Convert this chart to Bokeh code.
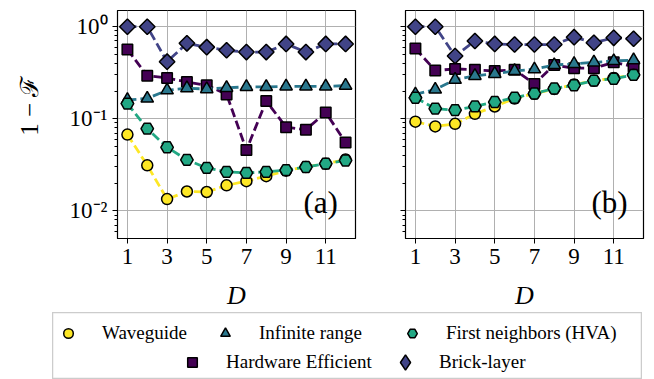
import numpy as np
from bokeh.plotting import figure
from bokeh.layouts import column, row
from bokeh.models import (FixedTicker, CustomJSTickFormatter, Legend, LegendItem,
                          Label, Spacer, Range1d, ColumnDataSource)
from bokeh.embed import file_html
from bokeh.resources import INLINE

D = [1, 2, 3, 4, 5, 6, 7, 8, 9, 10, 11, 12]

# Panel (a)
wg_a = [0.0673, 0.0312, 0.0134, 0.0162, 0.0160, 0.0189, 0.0210, 0.0238, 0.0273, 0.0300, 0.0325, 0.0360]
ir_a = [0.160, 0.166, 0.204, 0.215, 0.210, 0.217, 0.222, 0.222, 0.225, 0.225, 0.225, 0.229]
fn_a = [0.146, 0.078, 0.049, 0.0358, 0.0292, 0.0265, 0.0258, 0.0265, 0.0276, 0.0299, 0.0325, 0.0352]
hw_a = [0.564, 0.293, 0.277, 0.251, 0.231, 0.184, 0.0457, 0.156, 0.081, 0.076, 0.117, 0.0553]
bl_a = [1.0, 1.0, 0.417, 0.66, 0.60, 0.555, 0.53, 0.53, 0.65, 0.53, 0.65, 0.65]

# Panel (b)
wg_b = [0.093, 0.0826, 0.088, 0.113, 0.136, 0.166, 0.187, 0.211, 0.235, 0.259, 0.277, 0.300]
ir_b = [0.184, 0.208, 0.266, 0.293, 0.308, 0.331, 0.345, 0.384, 0.394, 0.410, 0.424, 0.434]
fn_b = [0.169, 0.129, 0.124, 0.136, 0.152, 0.169, 0.188, 0.213, 0.231, 0.259, 0.272, 0.300]
hw_b = [0.578, 0.334, 0.348, 0.340, 0.331, 0.340, 0.239, 0.384, 0.354, 0.354, 0.410, 0.369]
bl_b = [1.0, 1.0, 0.48, 0.70, 0.65, 0.64, 0.64, 0.64, 0.77, 0.67, 0.757, 0.74]

x_ticks = [1, 3, 5, 7, 9, 11]
y_ticks = [0.01, 0.1, 1.0]
y_minor = [0.006, 0.007, 0.008, 0.009,
           0.02, 0.03, 0.04, 0.05, 0.06, 0.07, 0.08, 0.09,
           0.2, 0.3, 0.4, 0.5, 0.6, 0.7, 0.8, 0.9]

labels = ["Waveguide", "Infinite range", "First neighbors (HVA)", "Hardware Efficient", "Brick-layer"]
colors = {"wg": "#fde725", "ir": "#2a788e", "fn": "#22a884", "hw": "#440154", "bl": "#414487"}
markers = {"wg": ("circle", 11, 0), "ir": ("triangle", 12.5, 0), "fn": ("hex", 12.5, 0),
           "hw": ("square", 10.5, 0), "bl": ("square", 11, 45)}

FONT = "Liberation Serif"


def make_panel(data, left, right, show_labels, tag):
    p = figure(width=left + 238 + right, height=312, y_axis_type="log",
               x_range=Range1d(0.5, 12.5), y_range=Range1d(0.005, 1.5),
               toolbar_location=None, output_backend="svg",
               min_border_left=left, min_border_right=right,
               min_border_top=10, min_border_bottom=70)
    p.outline_line_color = "black"
    p.outline_line_width = 1.2
    p.xaxis.ticker = FixedTicker(ticks=x_ticks, minor_ticks=[])
    p.yaxis.ticker = FixedTicker(ticks=y_ticks, minor_ticks=y_minor)
    for ax in (p.xaxis, p.yaxis):
        ax.axis_line_color = "black"
        ax.major_tick_line_color = "black"
        ax.minor_tick_line_color = "black"
        ax.major_tick_in = 0
        ax.major_tick_out = 5
        ax.minor_tick_in = 0
        ax.minor_tick_out = 3
        ax.major_label_text_font = FONT
        ax.major_label_text_font_size = "23px"
        ax.major_label_text_color = "black"
    p.xaxis.axis_label = "D"
    p.xaxis.axis_label_text_font = FONT
    p.xaxis.axis_label_text_font_size = "26px"
    p.xaxis.axis_label_text_font_style = "italic"
    p.xaxis.axis_label_text_color = "black"
    p.xaxis.axis_label_standoff = 14
    p.xaxis.major_label_standoff = 5
    if show_labels:
        p.yaxis.formatter = CustomJSTickFormatter(code="""
            const e = Math.round(Math.log10(tick));
            const sup = {'-': '\u207b', '0': '\u2070', '1': '\u00b9', '2': '\u00b2'};
            return '10' + String(e).split('').map(c => sup[c]).join('');
        """)
        p.yaxis.axis_label = "\u2003\u2002" + "1 \u2212 \u2131"
        p.yaxis.axis_label_text_font = FONT
        p.yaxis.axis_label_text_font_size = "25px"
        p.yaxis.axis_label_text_font_style = "normal"
        p.yaxis.axis_label_text_color = "black"
        p.yaxis.axis_label_standoff = 24
    else:
        p.yaxis.formatter = CustomJSTickFormatter(code="return '';")
    p.xgrid.grid_line_color = "#b0b0b0"
    p.ygrid.grid_line_color = "#b0b0b0"
    p.xgrid.grid_line_width = 1
    p.ygrid.grid_line_width = 1

    for key in ["bl", "hw", "wg", "ir", "fn"]:
        ys = data[key]
        p.line(D, ys, line_color=colors[key], line_width=2.8, line_dash="9 4")
        m, s, ang = markers[key]
        p.scatter(D, ys, marker=m, size=s, angle=ang, angle_units="deg",
                  fill_color=colors[key], line_color="black", line_width=1.5)

    p.add_layout(Label(x=186, y=36, x_units="screen", y_units="screen", text=tag,
                       text_font=FONT, text_font_size="31px", text_align="left",
                       text_baseline="middle", text_color="black"))
    return p


pa = make_panel({"wg": wg_a, "ir": ir_a, "fn": fn_a, "hw": hw_a, "bl": bl_a}, 117, 10, True, "(a)")
pb = make_panel({"wg": wg_b, "ir": ir_b, "fn": fn_b, "hw": hw_b, "bl": bl_b}, 40, 3, False, "(b)")

# Legend panel (dummy renderers lie outside its ranges; only the legend glyphs show)
fl = figure(width=590, height=67, x_range=Range1d(-10, -9), y_range=Range1d(-10, -9),
            toolbar_location=None, output_backend="svg", min_border=0,
            x_axis_location=None, y_axis_location=None)
fl.grid.visible = False
fl.outline_line_color = "#cccccc"
fl.outline_line_width = 1.5

keys = ["wg", "ir", "fn", "hw", "bl"]
series_a = {"wg": wg_a, "ir": ir_a, "fn": fn_a, "hw": hw_a, "bl": bl_a}
# (x, y, glyph box, label standoff)
leg_pos = [(4, 34, 24, 22), (161, 34, 24, 22), (348, 34, 24, 22),
           (128, 5, 24, 22), (334, -2, 38, 15)]
for key, lab, (lx, ly, gb, so) in zip(keys, labels, leg_pos):
    m, s, ang = markers[key]
    if key == "bl":
        m = "diamond"
    src = ColumnDataSource(dict(x=[D[0]], y=[series_a[key][0]]))
    r = fl.scatter(x="x", y="y", source=src, marker=m, size=s,
                   fill_color=colors[key], line_color="black", line_width=1.5)
    leg = Legend(items=[LegendItem(label=lab, renderers=[r], index=0)], location=(lx, ly),
                 orientation="horizontal", padding=0, margin=0, spacing=0,
                 glyph_width=gb, glyph_height=gb, label_height=gb, label_standoff=so,
                 label_text_font=FONT, label_text_font_size="19px",
                 label_text_color="black",
                 border_line_alpha=0, background_fill_alpha=0)
    fl.add_layout(leg)

layout = column(row(pa, pb), row(Spacer(width=52, height=67), fl))

open("out.html", "w").write(file_html(layout, INLINE))
